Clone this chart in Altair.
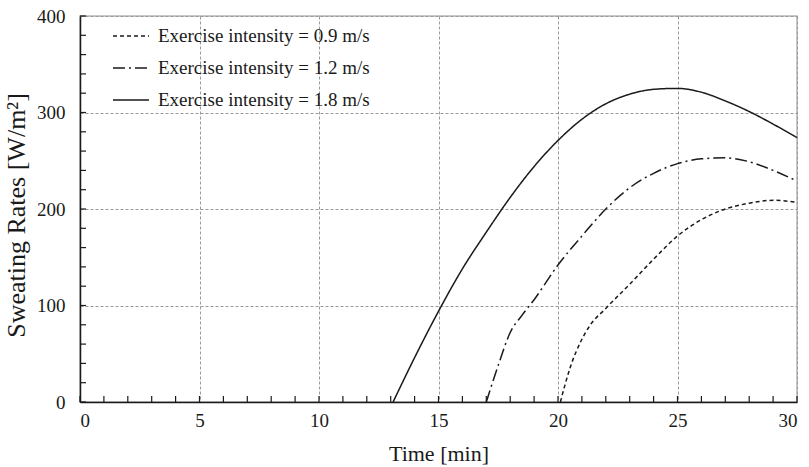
import altair as alt
import pandas as pd

# Series data
t_09 = [20.1, 20.5, 21.0, 21.3, 22, 23, 24, 25, 26, 27, 28, 29, 30]
y_09 = [0, 35, 65, 78, 97, 122, 148, 172, 189, 200, 206, 209, 207]

t_12 = [17.0, 17.5, 18.0, 18.5, 19, 20, 21, 22, 23, 24, 25, 26, 27, 28, 29, 30]
y_12 = [0, 38, 72, 90, 106, 142, 172, 200, 222, 237, 247, 252, 253, 249, 240, 229]

t_18 = [13.1, 14, 15, 16, 17, 18, 19, 20, 21, 22, 23, 24, 25, 26, 27, 28, 29, 30]
y_18 = [0, 46, 94, 138, 176, 212, 244, 271, 293, 309, 319, 324, 325, 321, 312, 301, 288, 274]

labels = ["Exercise intensity = 0.9 m/s",
          "Exercise intensity = 1.2 m/s",
          "Exercise intensity = 1.8 m/s"]
dashes = [[4, 3], [12, 4, 2, 4], [1, 0]]

x_minor = list(range(0, 31))
y_minor = list(range(0, 401, 20))

rows = []
for lab, ts, ys in zip(labels, [t_09, t_12, t_18], [y_09, y_12, y_18]):
    for t, y in zip(ts, ys):
        rows.append({"t": t, "y": y, "series": lab})
df = pd.DataFrame(rows)

FONT = "Liberation Serif"
xscale = alt.Scale(domain=[0, 30], nice=False, zero=False)
yscale = alt.Scale(domain=[0, 400], nice=False)

lines = alt.Chart(df).mark_line(color="#1a1a1a", strokeWidth=1.5, interpolate="monotone").encode(
    x=alt.X("t:Q", scale=xscale,
            axis=alt.Axis(title="Time [min]", values=[0, 5, 10, 15, 20, 25, 30],
                          grid=True, gridDash=[3, 2], gridColor="#9a9a9a", gridWidth=1,
                          ticks=False, labelPadding=9, titlePadding=13, titleFontSize=22)),
    y=alt.Y("y:Q", scale=yscale,
            axis=alt.Axis(title="Sweating Rates [W/m²]", values=[0, 100, 200, 300, 400],
                          grid=True, gridDash=[3, 2], gridColor="#9a9a9a", gridWidth=1,
                          ticks=False, labelPadding=15, titlePadding=7, titleFontSize=26,
                          titleY=199)),
    strokeDash=alt.StrokeDash("series:N",
                              scale=alt.Scale(domain=labels, range=dashes),
                              legend=alt.Legend(title=None, orient="none", legendX=32, legendY=1,
                                                symbolType="stroke", symbolSize=1296,
                                                symbolStrokeWidth=1.5, symbolStrokeColor="#1a1a1a",
                                                labelFont=FONT, labelFontSize=19, labelColor="#1a1a1a",
                                                labelLimit=400,
                                                labelOffset=8, rowPadding=3, padding=0)),
)

xt = alt.Chart(pd.DataFrame({"v": x_minor})).mark_rule(color="#1a1a1a", strokeWidth=1.2).encode(
    x=alt.X("v:Q", scale=xscale), y=alt.value(386), y2=alt.value(380))
yt = alt.Chart(pd.DataFrame({"v": y_minor})).mark_rule(color="#1a1a1a", strokeWidth=1.2).encode(
    y=alt.Y("v:Q", scale=yscale), x=alt.value(0), x2=alt.value(6))

chart = alt.layer(lines, xt, yt).properties(
    width=717, height=386,
    background="white",
    autosize=alt.AutoSizeParams(type="none"),
    padding={"left": 80, "top": 16, "right": 12, "bottom": 65},
).configure_view(stroke="#b5b5b5", strokeWidth=1.5).configure_axis(
    domainColor="#1a1a1a", domainWidth=1.5,
    labelFont=FONT, labelFontSize=19, labelColor="#1a1a1a",
    titleFont=FONT, titleColor="#1a1a1a", titleFontWeight="normal",
)

chart.save("out.html", embed_options={"renderer": "svg", "actions": False})
